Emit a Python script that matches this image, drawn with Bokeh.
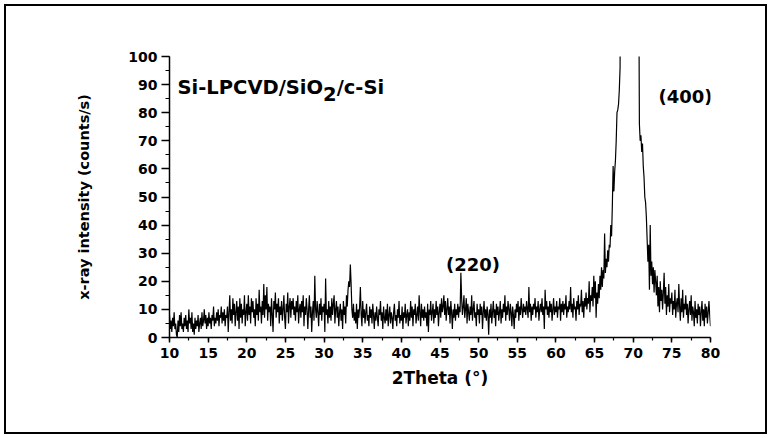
from bokeh.plotting import figure
from bokeh.models import Range1d, Label, FixedTicker
from bokeh.embed import file_html
from bokeh.resources import INLINE

# sampling grid of the scan (degrees 2Theta)
scan_start = 10.0
scan_step = 0.1

# intensity (counts/s), 10 points per degree
counts_10_20 = [8, 3, 6, 2, 7, 4, 9, 3, 5, 1,
                0, 6, 2, 8, 4, 9, 3, 5, 2, 7,
                4, 8, 3, 6, 2, 10, 5, 7, 3, 9,
                2, 5, 1, 7, 3, 6, 4, 8, 2, 5,
                7, 3, 9, 4, 6, 10, 5, 8, 3, 7,
                4, 9, 5, 7, 3, 8, 6, 11, 4, 7,
                5, 9, 6, 10, 4, 8, 7, 11, 5, 9,
                6, 10, 4, 8, 7, 11, 2, 9, 15, 6,
                10, 5, 14, 8, 12, 4, 9, 13, 6, 11,
                3, 14, 7, 12, 5, 10, 8, 15, 4, 9]
counts_20_30 = [12, 6, 15, 8, 11, 5, 14, 9, 13, 7,
                10, 4, 14, 8, 12, 6, 17, 9, 11, 5,
                13, 8, 19, 7, 15, 10, 18, 6, 12, 9,
                11, 4, 14, 8, 2, 13, 10, 16, 7, 12,
                9, 14, 5, 11, 8, 13, 6, 10, 15, 7,
                3, 12, 9, 16, 5, 11, 14, 7, 13, 10,
                14, 8, 11, 6, 13, 9, 15, 5, 10, 12,
                7, 13, 9, 15, 4, 11, 8, 14, 10, 3,
                10, 15, 7, 11, 2, 9, 13, 6, 22, 10,
                7, 13, 9, 4, 12, 8, 14, 6, 11, 9]
counts_30_40 = [12, 2, 21, 8, 10, 5, 13, 7, 11, 6,
                14, 8, 12, 15, 5, 10, 13, 7, 11, 4,
                9, 12, 6, 10, 3, 13, 8, 11, 5, 15,
                11, 17, 20, 18, 26, 19, 10, 7, 12, 6,
                9, 5, 12, 3, 10, 7, 11, 18, 8, 4,
                13, 7, 10, 5, 9, 12, 6, 8, 4, 11,
                7, 10, 5, 12, 8, 3, 9, 6, 11, 7,
                4, 10, 8, 13, 6, 9, 3, 11, 7, 5,
                10, 6, 12, 4, 8, 11, 5, 9, 7, 3,
                9, 12, 6, 8, 4, 10, 7, 13, 5, 8]
counts_40_50 = [6, 11, 3, 9, 7, 12, 5, 8, 10, 4,
                9, 6, 13, 7, 11, 4, 10, 8, 12, 5,
                8, 11, 6, 15, 9, 4, 12, 7, 10, 6,
                11, 7, 9, 4, 12, 2, 10, 8, 13, 6,
                9, 12, 5, 10, 7, 13, 8, 11, 4, 9,
                12, 7, 14, 9, 11, 15, 8, 13, 6, 10,
                14, 8, 11, 5, 13, 9, 3, 10, 7, 12,
                6, 10, 8, 12, 7, 11, 9, 23, 14, 8,
                11, 15, 7, 10, 14, 5, 12, 9, 6, 11,
                8, 15, 6, 10, 13, 7, 9, 4, 12, 8]
counts_50_60 = [10, 5, 12, 8, 11, 3, 9, 13, 7, 10,
                6, 11, 8, 1, 10, 7, 12, 5, 9, 13,
                7, 10, 4, 12, 8, 11, 6, 9, 13, 5,
                10, 7, 12, 9, 15, 6, 11, 8, 13, 10,
                6, 12, 9, 4, 11, 8, 3, 10, 7, 12,
                9, 13, 6, 11, 8, 14, 10, 7, 12, 9,
                11, 8, 13, 10, 7, 18, 9, 12, 6, 11,
                8, 12, 10, 14, 7, 11, 9, 13, 6, 10,
                12, 9, 14, 8, 11, 3, 17, 10, 13, 8,
                11, 7, 13, 9, 12, 6, 10, 14, 8, 11]
counts_60_70 = [9, 13, 7, 11, 10, 14, 6, 12, 9, 13,
                8, 12, 10, 15, 7, 11, 9, 13, 10, 18,
                9, 12, 7, 14, 10, 11, 6, 13, 10, 15,
                8, 12, 11, 17, 9, 13, 7, 14, 11, 16,
                10, 14, 12, 20, 9, 15, 13, 18, 11, 22,
                14, 20, 7, 16, 12, 19, 14, 22, 17, 25,
                18, 24, 21, 37, 23, 28, 25, 31, 27, 33,
                32, 40, 36, 47, 61, 52, 59, 63, 70, 80,
                81, 83, 88, 96, 170, 350, 700, 1200, 1700, 2100,
                2400, 2600, 2700, 2750, 2800, 2750, 2650, 2500, 2200, 1800]
counts_70_80 = [1400, 1000, 700, 480, 330, 230, 160, 140, 76, 70,
                72, 66, 69, 61, 57, 50, 48, 43, 35, 27,
                33, 17, 40, 22, 27, 19, 25, 16, 24, 20,
                15, 22, 11, 18, 9, 20, 13, 17, 10, 16,
                23, 12, 18, 8, 15, 11, 19, 9, 14, 12,
                16, 8, 13, 10, 17, 7, 12, 14, 9, 19,
                11, 6, 14, 9, 17, 7, 12, 10, 15, 8,
                12, 5, 10, 13, 8, 15, 6, 11, 9, 4,
                13, 7, 10, 5, 12, 8, 11, 4, 9, 13,
                6, 10, 4, 12, 7, 11, 5, 9, 13, 8]
counts_80 = [4]

x_ticks = [10, 15, 20, 25, 30, 35, 40, 45, 50, 55, 60, 65, 70, 75, 80]
x_minor = [10, 12.5, 15, 17.5, 20, 22.5, 25, 27.5, 30, 32.5, 35, 37.5, 40, 42.5, 45,
           47.5, 50, 52.5, 55, 57.5, 60, 62.5, 65, 67.5, 70, 72.5, 75, 77.5, 80]
y_ticks = [0, 10, 20, 30, 40, 50, 60, 70, 80, 90, 100]
y_minor = [0, 5, 10, 15, 20, 25, 30, 35, 40, 45, 50, 55, 60, 65, 70, 75, 80, 85, 90, 95, 100]

sample_label = ["Si-LPCVD/SiO", "2", "/c-Si"]
peak_labels = ["(220)", "(400)"]
peak_label_x = [49.27, 76.77]
peak_label_y = [26.0, 85.8]

counts = (counts_10_20 + counts_20_30 + counts_30_40 + counts_40_50 +
          counts_50_60 + counts_60_70 + counts_70_80 + counts_80)
two_theta = [round(scan_start + i * scan_step, 1) for i in range(len(counts))]

FONT = "DejaVu Sans"
FRAME_W = 541

p = figure(width=755, height=422, output_backend="svg", toolbar_location=None,
           x_range=Range1d(10, 80), y_range=Range1d(0, 100),
           min_border_left=161, min_border_right=53,
           min_border_top=48, min_border_bottom=93)
p.styles = {"margin-left": "8px", "margin-top": "8px",
            "outline": "2px solid black", "outline-offset": "2px"}
p.outline_line_color = None
p.xgrid.visible = False
p.ygrid.visible = False
p.background_fill_color = "white"
p.border_fill_color = "white"

p.line(two_theta, counts, line_color="black", line_width=1.2)

p.xaxis.ticker = FixedTicker(ticks=x_ticks, minor_ticks=x_minor)
p.yaxis.ticker = FixedTicker(ticks=y_ticks, minor_ticks=y_minor)

for ax in (p.xaxis, p.yaxis):
    ax.axis_line_color = "black"
    ax.axis_line_width = 1.5
    ax.major_tick_line_width = 1.5
    ax.minor_tick_line_width = 1.2
    ax.major_tick_in = 0
    ax.minor_tick_in = 0
    ax.major_label_text_font = FONT
    ax.major_label_text_font_style = "bold"
    ax.major_label_text_font_size = "14px"
    ax.major_label_text_color = "black"
    ax.axis_label_text_font = FONT
    ax.axis_label_text_font_style = "bold"
    ax.axis_label_text_color = "black"

p.xaxis.major_tick_out = 5
p.xaxis.minor_tick_out = 3
p.yaxis.major_tick_out = 8
p.yaxis.minor_tick_out = 4
p.xaxis.major_label_standoff = 5
p.yaxis.major_label_standoff = 4

p.xaxis.axis_label = "2Theta (°)"
p.xaxis.axis_label_text_font_size = "17px"
p.xaxis.axis_label_standoff = 7
p.yaxis.axis_label = "x-ray intensity (counts/s)"
p.yaxis.axis_label_text_font_size = "14.5px"
p.yaxis.axis_label_standoff = 33

# sample name with a lowered "2"
fs = 19.5
px_to_data = 70.0 / FRAME_W
w_main = 7.464 * fs * px_to_data
w_sub = 0.696 * fs * px_to_data
x0 = 11.04
p.add_layout(Label(x=x0, y=89.0, text=sample_label[0], text_font=FONT,
                   text_font_style="bold", text_font_size=f"{fs}px",
                   text_baseline="alphabetic", text_align="left", text_color="black"))
p.add_layout(Label(x=x0 + w_main, y=86.6, text=sample_label[1], text_font=FONT,
                   text_font_style="bold", text_font_size=f"{fs}px",
                   text_baseline="alphabetic", text_align="left", text_color="black"))
p.add_layout(Label(x=x0 + w_main + w_sub, y=89.0, text=sample_label[2], text_font=FONT,
                   text_font_style="bold", text_font_size=f"{fs}px",
                   text_baseline="alphabetic", text_align="left", text_color="black"))

for t, lx, ly in zip(peak_labels, peak_label_x, peak_label_y):
    p.add_layout(Label(x=lx, y=ly, text=t, text_font=FONT, text_font_style="bold",
                       text_font_size="18px", text_align="center",
                       text_baseline="middle", text_color="black"))

open("out.html", "w").write(file_html(p, INLINE))
